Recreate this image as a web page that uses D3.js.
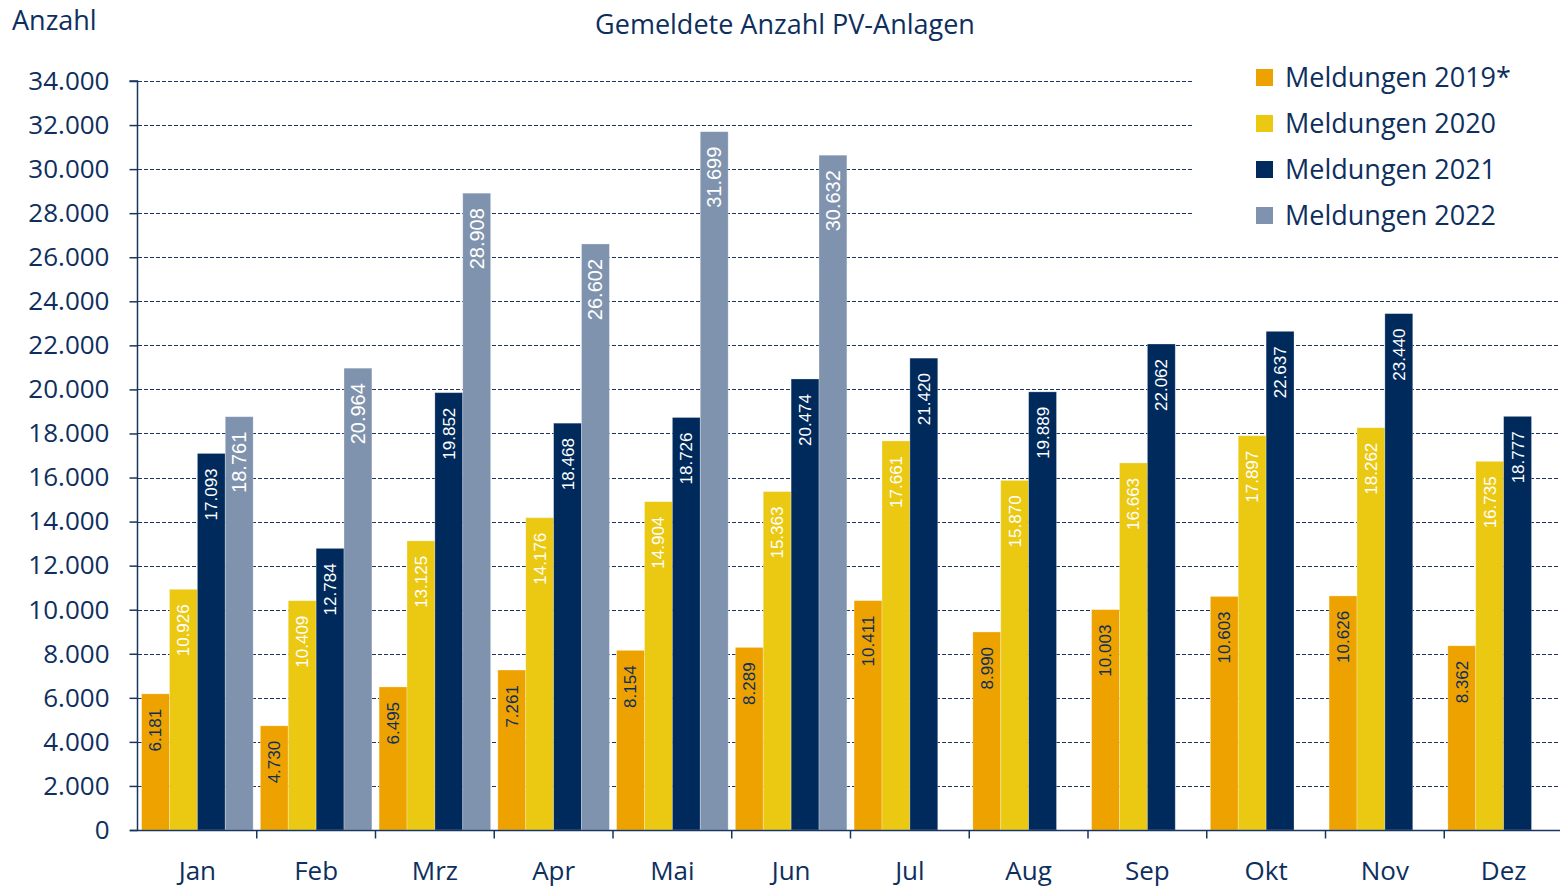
<!DOCTYPE html>
<html>
<head>
<meta charset="utf-8">
<script src="https://cdn.jsdelivr.net/npm/d3@7"></script>
<style>
  body { margin: 0; background: #fff; }
  svg { display: block; font-family: "Open Sans", "Noto Sans", sans-serif; }
</style>
</head>
<body>
<div id="chart"></div>
<script>
// data
const months = ["Jan", "Feb", "Mrz", "Apr", "Mai", "Jun", "Jul", "Aug", "Sep", "Okt", "Nov", "Dez"];
const seriesNames = ["Meldungen 2019*", "Meldungen 2020", "Meldungen 2021", "Meldungen 2022"];
const values2019 = [6181, 4730, 6495, 7261, 8154, 8289, 10411, 8990, 10003, 10603, 10626, 8362];
const values2020 = [10926, 10409, 13125, 14176, 14904, 15363, 17661, 15870, 16663, 17897, 18262, 16735];
const values2021 = [17093, 12784, 19852, 18468, 18726, 20474, 21420, 19889, 22062, 22637, 23440, 18777];
const values2022 = [18761, 20964, 28908, 26602, 31699, 30632, null, null, null, null, null, null];
const yTicks = d3.range(0, 34001, 2000);

const colors = ["#eda200", "#ebc912", "#002a5c", "#7f93ae"];
const labelColors = ["#0e2f5e", "#ffffff", "#ffffff", "#ffffff"];
const labelSizes = [17, 17, 17, 20];
const textColor = "#0e2f5e";
const lineColor = "#1a3560";

const W = 1560, H = 887;
const M = { left: 138, right: -3, top: 81, bottom: 57 };

const svg = d3.select("#chart").append("svg")
    .attr("width", W)
    .attr("height", H);

const x0 = d3.scaleBand()
    .domain(months)
    .range([M.left, W - M.right])
    .padding(0);

const x1 = d3.scaleBand()
    .domain(d3.range(4))
    .range([3.6, x0.bandwidth() - 3.6])
    .padding(0);

const y = d3.scaleLinear()
    .domain([0, 34000])
    .range([H - M.bottom, M.top]);

// dashed gridlines
svg.append("g")
    .selectAll("line")
    .data(yTicks.filter(d => d > 0))
    .enter().append("line")
    .attr("x1", M.left)
    .attr("x2", W)
    .attr("y1", d => Math.round(y(d)) + 0.5)
    .attr("y2", d => Math.round(y(d)) + 0.5)
    .attr("stroke", lineColor)
    .attr("stroke-width", 1.2)
    .attr("stroke-dasharray", "4,2");

// bars
const allSeries = [values2019, values2020, values2021, values2022];
const barData = [];
months.forEach((m, i) => {
    allSeries.forEach((s, k) => {
        if (s[i] != null) barData.push({ month: m, k: k, value: s[i] });
    });
});

const groups = svg.append("g").selectAll("g")
    .data(barData)
    .enter().append("g");

groups.append("rect")
    .attr("x", d => x0(d.month) + x1(d.k))
    .attr("y", d => y(d.value))
    .attr("width", x1.bandwidth())
    .attr("height", d => y(0) - y(d.value))
    .attr("fill", d => colors[d.k])
    .attr("stroke", "#ffffff")
    .attr("stroke-opacity", 0.35)
    .attr("stroke-width", 0.8);

groups.append("text")
    .attr("transform", d => {
        const cx = x0(d.month) + x1(d.k) + x1.bandwidth() / 2;
        const ty = y(d.value) + 15;
        return `translate(${cx},${ty}) rotate(-90)`;
    })
    .attr("text-anchor", "end")
    .attr("dy", "0.35em")
    .attr("font-family", "'Liberation Sans', Arial, sans-serif")
    .attr("font-size", d => labelSizes[d.k])
    .attr("fill", d => labelColors[d.k])
    .text(d => d3.format(",")(d.value).replace(/,/g, "."));

// y axis
const yAxis = d3.axisLeft(y)
    .tickValues(yTicks)
    .tickSize(8)
    .tickPadding(20)
    .tickFormat(d => d3.format(",")(d).replace(/,/g, "."));

const gy = svg.append("g")
    .attr("transform", `translate(${M.left - 0.5},0)`)
    .call(yAxis);
gy.select(".domain").attr("stroke", lineColor).attr("stroke-width", 1.5)
    .attr("d", `M-8,${y(34000)}H0V${y(0)}`);
gy.selectAll(".tick line").attr("stroke", lineColor).attr("stroke-width", 1.5);
gy.selectAll(".tick text")
    .attr("fill", textColor)
    .attr("font-size", 26)
    .attr("font-family", "'Open Sans', sans-serif");

// x axis
const gx = svg.append("g")
    .attr("transform", `translate(0,${y(0) + 0.5})`);
gx.append("line")
    .attr("x1", M.left - 8).attr("x2", W)
    .attr("stroke", lineColor).attr("stroke-width", 1.5);
gx.selectAll(".sep")
    .data(months.slice(1))
    .enter().append("line")
    .attr("class", "sep")
    .attr("x1", d => x0(d)).attr("x2", d => x0(d))
    .attr("y1", 0).attr("y2", 8)
    .attr("stroke", lineColor).attr("stroke-width", 1.5);
gx.selectAll(".mlabel")
    .data(months)
    .enter().append("text")
    .attr("class", "mlabel")
    .attr("x", d => x0(d) + x0.bandwidth() / 2)
    .attr("y", 49)
    .attr("text-anchor", "middle")
    .attr("font-size", 26)
    .attr("fill", textColor)
    .text(d => d);

// titles
svg.append("text")
    .attr("x", 12)
    .attr("y", 30)
    .attr("font-size", 27)
    .attr("fill", textColor)
    .text("Anzahl");

svg.append("text")
    .attr("x", 785)
    .attr("y", 34)
    .attr("text-anchor", "middle")
    .attr("font-size", 27)
    .attr("fill", textColor)
    .text("Gemeldete Anzahl PV-Anlagen");

// legend with white background
const legend = svg.append("g").attr("transform", "translate(1192,54)");
legend.append("rect")
    .attr("width", 368).attr("height", 186)
    .attr("fill", "#ffffff");
const items = legend.selectAll(".item")
    .data(seriesNames)
    .enter().append("g")
    .attr("class", "item")
    .attr("transform", (d, i) => `translate(64,${24 + i * 46})`);
items.append("rect")
    .attr("x", 0).attr("y", -9)
    .attr("width", 17).attr("height", 17)
    .attr("fill", (d, i) => colors[i]);
items.append("text")
    .attr("x", 29)
    .attr("y", 0)
    .attr("dy", "0.35em")
    .attr("font-size", 27)
    .attr("fill", textColor)
    .text(d => d);
</script>
</body>
</html>
